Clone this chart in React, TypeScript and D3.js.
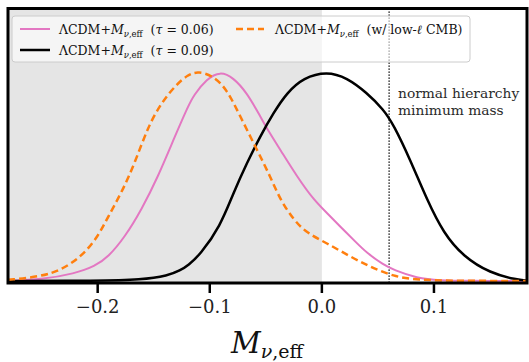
import React from "react";
import * as d3 from "d3";

const W = 529;
const H = 362;

// Curve samples: [M_nu,eff, normalized posterior]
const tau006M = [-0.28, -0.2504, -0.2203, -0.2025, -0.1906, -0.1757, -0.1609, -0.146, -0.1311, -0.1193, -0.1145, -0.1026, -0.0907, -0.0789, -0.0669, -0.055, -0.0476, -0.0372, -0.0223, -0.0075, 0.0045, 0.0163, 0.0297, 0.0401, 0.055, 0.0639, 0.0847, 0.1055, 0.13, 0.183];
const tau006P = [0.0, 0.006, 0.035, 0.07, 0.114, 0.21, 0.34, 0.499, 0.69, 0.834, 0.885, 0.965, 1.0, 0.97, 0.898, 0.786, 0.714, 0.627, 0.499, 0.388, 0.324, 0.26, 0.188, 0.133, 0.077, 0.053, 0.013, 0.002, 0.0, 0.0];

const tau009M = [-0.28, -0.2, -0.1609, -0.1371, -0.1264, -0.1193, -0.1086, -0.0907, -0.0789, -0.0669, -0.055, -0.0432, -0.0312, -0.0164, 0.0045, 0.0223, 0.0401, 0.055, 0.0639, 0.0788, 0.0937, 0.1085, 0.1263, 0.1501, 0.174, 0.183];
const tau009P = [0.0, 0.0, 0.005, 0.025, 0.05, 0.074, 0.125, 0.26, 0.42, 0.563, 0.69, 0.802, 0.898, 0.97, 1.0, 0.97, 0.898, 0.818, 0.746, 0.579, 0.388, 0.228, 0.116, 0.037, 0.005, 0.002];

const lowlM = [-0.2798, -0.2501, -0.2323, -0.2144, -0.1996, -0.1906, -0.1788, -0.1668, -0.155, -0.1431, -0.1311, -0.1193, -0.1101, -0.0967, -0.0847, -0.0729, -0.058, -0.0461, -0.0372, -0.0253, -0.0134, 0.0045, 0.0252, 0.0431, 0.0639, 0.0847, 0.12, 0.183];
const lowlP = [0.005, 0.021, 0.053, 0.116, 0.212, 0.308, 0.42, 0.563, 0.738, 0.85, 0.93, 0.986, 1.0, 0.978, 0.914, 0.786, 0.627, 0.499, 0.388, 0.292, 0.228, 0.18, 0.116, 0.068, 0.021, 0.005, 0.0, 0.0];

const xTicks = [-0.2, -0.1, 0.0, 0.1];
const xTickLabels = ["\u22120.2", "\u22120.1", "0.0", "0.1"];
const nhMinMass = 0.06;

const left = 8, right = 527, top = 8.5, bottom = 283;

export default function App() {
  const x = d3.scaleLinear().domain([-0.28, 0.183]).range([left, right]);
  const y = d3.scaleLinear().domain([-0.01, 1.3]).range([bottom, top]);
  const line = d3
    .line<[number, number]>()
    .x((d) => x(d[0]))
    .y((d) => y(d[1]))
    .curve(d3.curveBasis);
  const pts = (a: number[], b: number[]) => a.map((v, i) => [v, b[i]] as [number, number]);

  const serif = "'DejaVu Serif', serif";

  const Label = ({ tau, lowl }: { tau?: string; lowl?: boolean }) => (
    <>
      <tspan>ΛCDM+</tspan>
      <tspan fontStyle="italic">M</tspan>
      <tspan fontSize={8.5} dy={3}>
        <tspan fontStyle="italic">ν</tspan>,eff
      </tspan>
      <tspan dy={-3}>{"\u00a0\u00a0"}</tspan>
      {lowl ? (
        <>
          <tspan>(w/ low-</tspan>
          <tspan fontStyle="italic">ℓ</tspan>
          <tspan> CMB)</tspan>
        </>
      ) : (
        <>
          <tspan>(</tspan>
          <tspan fontStyle="italic">τ</tspan>
          <tspan> = {tau})</tspan>
        </>
      )}
    </>
  );

  return (
    <svg
      width={W}
      height={H}
      style={{ position: "absolute", left: 0, top: 0, background: "white", fontFamily: serif }}
    >
      <defs>
        <clipPath id="plotclip">
          <rect x={left} y={top} width={right - left} height={bottom - top} />
        </clipPath>
      </defs>
      <rect x={left} y={top} width={x(0) - left} height={bottom - top} fill="#e5e5e5" />
      <g clipPath="url(#plotclip)">
        <line
          x1={x(nhMinMass)}
          x2={x(nhMinMass)}
          y1={top}
          y2={bottom}
          stroke="black"
          strokeWidth={1.4}
          strokeDasharray="1.3,1.7"
        />
        <path d={line(pts(tau006M, tau006P)) || ""} fill="none" stroke="#e377c2" strokeWidth={2} />
        <path d={line(pts(tau009M, tau009P)) || ""} fill="none" stroke="black" strokeWidth={2.5} />
        <path
          d={line(pts(lowlM, lowlP)) || ""}
          fill="none"
          stroke="#ff7f0e"
          strokeWidth={2.5}
          strokeDasharray="7,4"
        />
      </g>
      <text x={398} y={98} fontSize={13.8} fill="#2a2a2a">normal hierarchy</text>
      <text x={398} y={115} fontSize={13.8} fill="#2a2a2a">minimum mass</text>

      {/* legend */}
      <rect x={12} y={16} width={458} height={46} rx={3} fill="white" fillOpacity={0.6} stroke="#cccccc" strokeWidth={1} />
      <line x1={20} x2={50} y1={29} y2={29} stroke="#e377c2" strokeWidth={2} />
      <text x={59} y={33.5} fontSize={12.5} fill="#111">
        <Label tau="0.06" />
      </text>
      <line x1={20} x2={50} y1={50} y2={50} stroke="black" strokeWidth={2.5} />
      <text x={59} y={54.5} fontSize={12.5} fill="#111">
        <Label tau="0.09" />
      </text>
      <line x1={236} x2={264} y1={29} y2={29} stroke="#ff7f0e" strokeWidth={2.5} strokeDasharray="7,4" />
      <text x={275} y={33.5} fontSize={12.5} fill="#111">
        <Label lowl />
      </text>

      {/* spines */}
      <rect x={left} y={top} width={right - left} height={bottom - top} fill="none" stroke="black" strokeWidth={3} />
      {xTicks.map((t, i) => (
        <g key={t}>
          <line x1={x(t)} x2={x(t)} y1={bottom} y2={bottom + 10} stroke="black" strokeWidth={2.5} />
          <text x={x(t)} y={313} fontSize={18} textAnchor="middle" fill="#222">
            {xTickLabels[i]}
          </text>
        </g>
      ))}
      <text x={267} y={353} fontSize={29} textAnchor="middle" fill="#111">
        <tspan fontStyle="italic">M</tspan>
        <tspan fontSize={19} dy={5}>
          <tspan fontStyle="italic">ν</tspan>,eff
        </tspan>
      </text>
    </svg>
  );
}
